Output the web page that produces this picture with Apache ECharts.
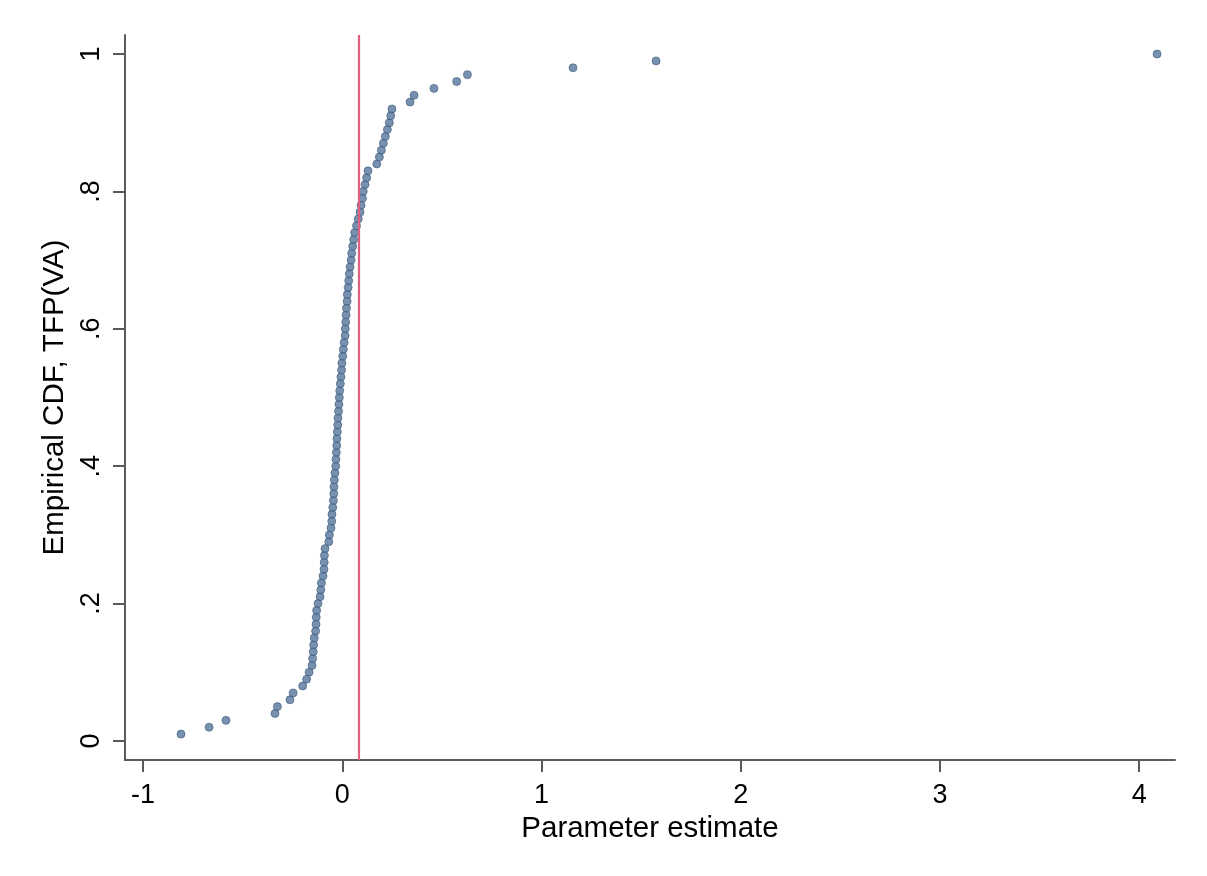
<!DOCTYPE html>
<html>
<head>
<meta charset="utf-8">
<script src="https://cdn.jsdelivr.net/npm/echarts@6/dist/echarts.min.js"></script>
<style>
html,body{margin:0;padding:0;background:#fff;}
#chart{width:1207px;height:876px;}
</style>
</head>
<body>
<div id="chart"></div>
<script>
// Empirical CDF levels (i/100)
const cdfLevels = [
0.01,0.02,0.03,0.04,0.05,0.06,0.07,0.08,0.09,0.10,
0.11,0.12,0.13,0.14,0.15,0.16,0.17,0.18,0.19,0.20,
0.21,0.22,0.23,0.24,0.25,0.26,0.27,0.28,0.29,0.30,
0.31,0.32,0.33,0.34,0.35,0.36,0.37,0.38,0.39,0.40,
0.41,0.42,0.43,0.44,0.45,0.46,0.47,0.48,0.49,0.50,
0.51,0.52,0.53,0.54,0.55,0.56,0.57,0.58,0.59,0.60,
0.61,0.62,0.63,0.64,0.65,0.66,0.67,0.68,0.69,0.70,
0.71,0.72,0.73,0.74,0.75,0.76,0.77,0.78,0.79,0.80,
0.81,0.82,0.83,0.84,0.85,0.86,0.87,0.88,0.89,0.90,
0.91,0.92,0.93,0.94,0.95,0.96,0.97,0.98,0.99,1.00
];
// Parameter estimates (sorted)
const estimates = [
-0.810,-0.669,-0.584,-0.338,-0.326,-0.263,-0.247,-0.199,-0.179,-0.167,
-0.152,-0.149,-0.146,-0.144,-0.141,-0.134,-0.132,-0.131,-0.129,-0.122,
-0.112,-0.108,-0.105,-0.097,-0.092,-0.091,-0.090,-0.087,-0.068,-0.065,
-0.057,-0.053,-0.052,-0.048,-0.045,-0.043,-0.042,-0.040,-0.037,-0.033,
-0.032,-0.030,-0.028,-0.027,-0.025,-0.023,-0.022,-0.019,-0.017,-0.015,
-0.013,-0.010,-0.007,-0.004,-0.002,0.002,0.005,0.009,0.014,0.015,
0.017,0.019,0.021,0.024,0.025,0.029,0.032,0.035,0.039,0.044,
0.047,0.052,0.057,0.062,0.071,0.080,0.089,0.094,0.101,0.105,
0.114,0.122,0.129,0.173,0.186,0.196,0.206,0.216,0.226,0.236,
0.243,0.249,0.340,0.360,0.460,0.574,0.628,1.158,1.575,4.090
];
const refLineX = 0.084;
const xTicks = [-1, 0, 1, 2, 3, 4];
const yTicks = [0, 0.2, 0.4, 0.6, 0.8, 1];
const yTickLabels = ['0', '.2', '.4', '.6', '.8', '1'];

const points = estimates.map((v, i) => [v, cdfLevels[i]]);
const font = '"Liberation Sans", Arial, sans-serif';
const axisColor = '#5a5a5a';

const chart = echarts.init(document.getElementById('chart'));
chart.setOption({
  backgroundColor: '#ffffff',
  animation: false,
  grid: {left: 125, right: 32, top: 35, bottom: 116, containLabel: false},
  xAxis: {
    type: 'value',
    min: -1.091, max: 4.180,
    name: 'Parameter estimate',
    nameLocation: 'middle',
    nameGap: 49,
    nameTextStyle: {fontFamily: font, fontSize: 29.5, color: '#000'},
    axisLine: {show: true, onZero: false, lineStyle: {color: axisColor, width: 2}},
    axisTick: {show: true, length: 12, lineStyle: {color: axisColor, width: 2}, customValues: xTicks},
    axisLabel: {fontFamily: font, fontSize: 27, color: '#000', margin: 22, customValues: xTicks,
      formatter: v => String(Math.round(v))},
    splitLine: {show: false}
  },
  yAxis: {
    type: 'value',
    min: -0.0277, max: 1.0277,
    name: 'Empirical CDF, TFP(VA)',
    nameLocation: 'middle',
    nameRotate: 90,
    nameGap: 49,
    nameTextStyle: {fontFamily: font, fontSize: 29.5, color: '#000'},
    axisLine: {show: true, onZero: false, lineStyle: {color: axisColor, width: 2}},
    axisTick: {show: true, length: 12, lineStyle: {color: axisColor, width: 2}, customValues: yTicks},
    axisLabel: {fontFamily: font, fontSize: 27, color: '#000', margin: 20, rotate: 90, customValues: yTicks,
      formatter: v => { const k = yTicks.findIndex(t => Math.abs(t - v) < 1e-6); return k >= 0 ? yTickLabels[k] : ''; }},
    splitLine: {show: false}
  },
  series: [{
    type: 'scatter',
    data: points,
    symbol: 'circle',
    symbolSize: 8,
    itemStyle: {color: '#56769a', borderColor: '#3d5c80', borderWidth: 0.8},
    markLine: {
      silent: true,
      symbol: ['none', 'none'],
      label: {show: false},
      lineStyle: {color: '#e0607f', width: 2.2, type: 'solid'},
      data: [{xAxis: refLineX}]
    }
  }]
});
</script>
</body>
</html>
